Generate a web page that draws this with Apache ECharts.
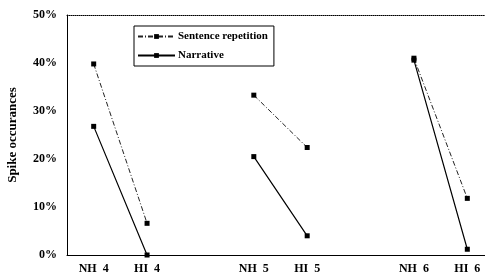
<!DOCTYPE html>
<html>
<head>
<meta charset="utf-8">
<script src="https://cdn.jsdelivr.net/npm/echarts@6/dist/echarts.min.js"></script>
<style>
  html, body { margin: 0; padding: 0; background: #fff; }
  #chart { width: 485px; height: 280px; }
</style>
</head>
<body>
<div id="chart"></div>
<script>
// groups, with empty slots as gaps between them
const categories = ['NH  4', 'HI  4', '', 'NH  5', 'HI  5', '', 'NH  6', 'HI  6'];
const sentenceRepetition = [39.8, 6.6, null, 33.3, 22.4, null, 41.0, 11.8];
const narrative = [26.8, 0.0, null, 20.5, 4.0, null, 40.6, 1.2];
const yTicks = [0, 10, 20, 30, 40, 50];

const font = 'Liberation Serif';
const chart = echarts.init(document.getElementById('chart'));

chart.setOption({
  animation: false,
  backgroundColor: '#fff',
  grid: { left: 67, right: -9, top: 15, bottom: 25, outerBoundsMode: 'none' },
  legend: {
    orient: 'vertical',
    left: 134,
    top: 26,
    padding: [5, 6, 5, 3],
    itemGap: 8,
    itemWidth: 37,
    itemHeight: 6,
    borderColor: '#000',
    borderWidth: 1,
    textStyle: { fontFamily: font, fontWeight: 'bold', fontSize: 11, color: '#000', padding: [0, 0, 0, -2] },
    data: ['Sentence repetition', 'Narrative']
  },
  xAxis: [
    {
      type: 'category',
      data: categories,
      boundaryGap: true,
      axisLine: { lineStyle: { color: '#000', width: 1 } },
      axisTick: { inside: true, length: 3, lineStyle: { color: '#000' } },
      axisLabel: { fontFamily: font, fontWeight: 'bold', fontSize: 12, color: '#000', margin: 8, interval: 0 }
    },
    {
      type: 'category',
      position: 'top',
      data: categories,
      axisLine: { lineStyle: { color: '#000', width: 1, type: [1, 1] } },
      axisTick: { show: false },
      axisLabel: { show: false }
    }
  ],
  yAxis: {
    type: 'value',
    min: yTicks[0],
    max: yTicks[yTicks.length - 1],
    interval: 10,
    name: 'Spike occurances',
    nameLocation: 'middle',
    nameRotate: 90,
    nameGap: 48,
    nameTextStyle: { fontFamily: font, fontWeight: 'bold', fontSize: 13, color: '#000' },
    axisLine: { show: true, lineStyle: { color: '#000', width: 1 } },
    axisTick: { show: false },
    splitLine: { show: false },
    axisLabel: {
      fontFamily: font, fontWeight: 'bold', fontSize: 12, color: '#000', margin: 10,
      formatter: v => v + '%'
    }
  },
  series: [
    {
      name: 'Sentence repetition',
      type: 'line',
      data: sentenceRepetition,
      connectNulls: false,
      symbol: 'rect',
      symbolSize: 5,
      itemStyle: { color: '#000' },
      lineStyle: { color: '#222', width: 1, type: [5, 2, 1, 2] }
    },
    {
      name: 'Narrative',
      type: 'line',
      data: narrative,
      connectNulls: false,
      symbol: 'rect',
      symbolSize: 5,
      itemStyle: { color: '#000' },
      lineStyle: { color: '#000', width: 1.2 }
    }
  ]
});
</script>
</body>
</html>
